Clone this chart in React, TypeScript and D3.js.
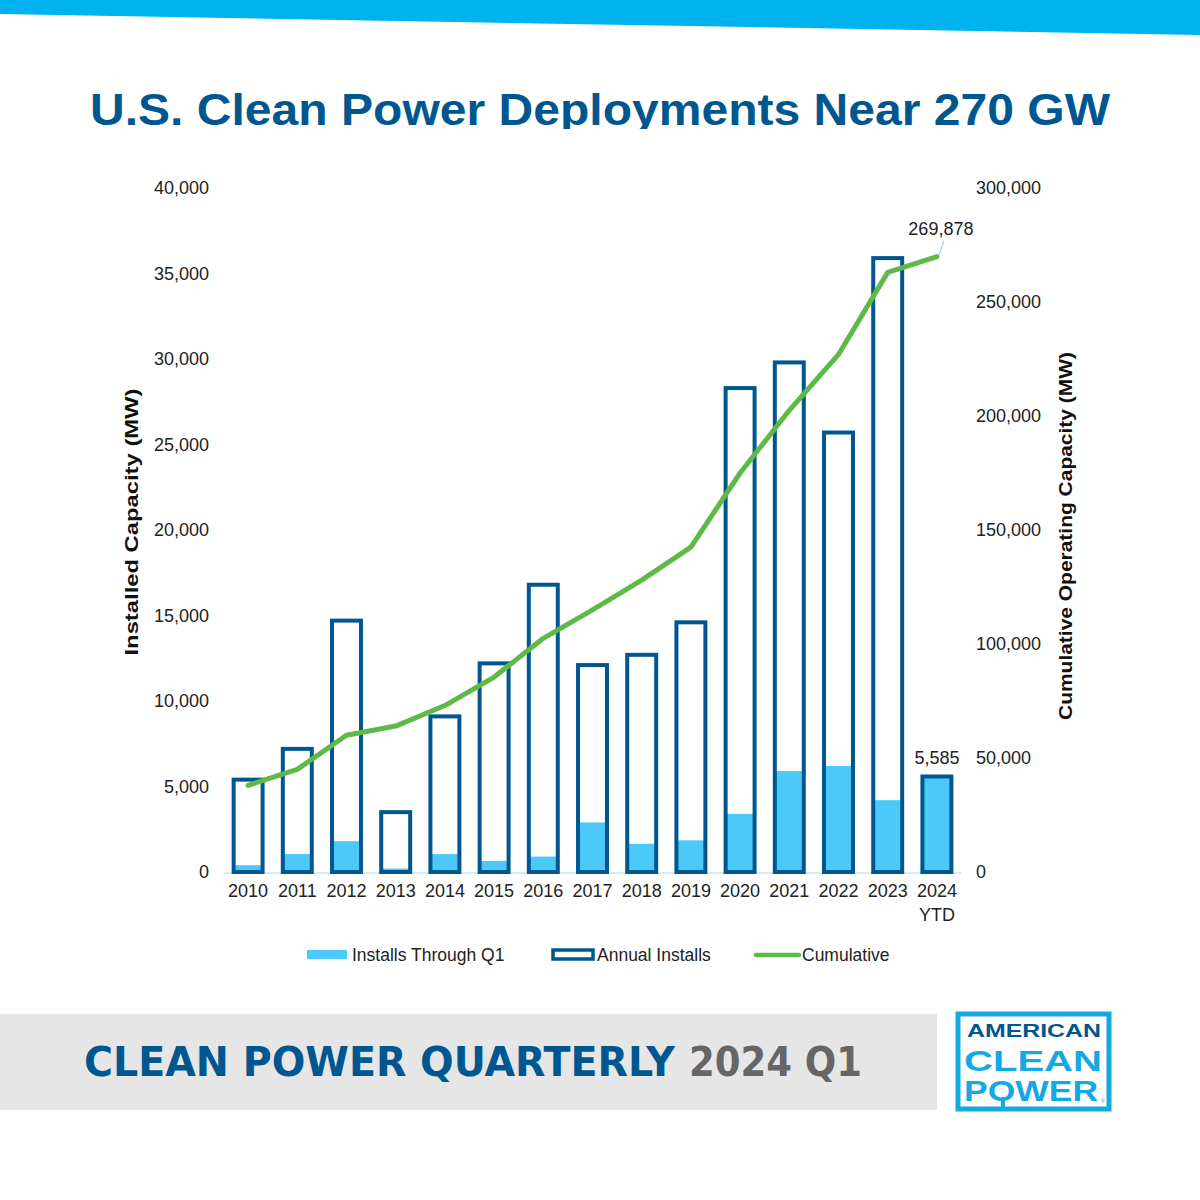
import React from "react";
import * as d3 from "d3";

// Data (MW)
const years = ["2010", "2011", "2012", "2013", "2014", "2015", "2016", "2017", "2018", "2019", "2020", "2021", "2022", "2023", "2024"];
const annualInstalls = [5400, 7200, 14700, 3500, 9100, 12200, 16800, 12100, 12700, 14600, 28300, 29800, 25700, 35900, 5585];
const q1Installs = [400, 1050, 1800, 200, 1050, 650, 900, 2900, 1650, 1850, 3400, 5900, 6200, 4200, 5585];
const cumulative = [38000, 45000, 60000, 64000, 73000, 85500, 102500, 115000, 128000, 142500, 175000, 202500, 227000, 263000, 269878];
const leftTicks = [0, 5000, 10000, 15000, 20000, 25000, 30000, 35000, 40000];
const rightTicks = [0, 50000, 100000, 150000, 200000, 250000, 300000];

const DARK_BLUE = "#00578F";
const LIGHT_BLUE = "#4BC9F8";
const GREEN = "#5DBA47";
const CYAN = "#00B3EE";
const LOGO_CYAN = "#14A9E2";
const FONT = "'Liberation Sans', Arial, Helvetica, sans-serif";
const NARROW = "'Liberation Sans Narrow', 'DejaVu Sans Condensed', 'Liberation Sans', sans-serif";

export default function App() {
  const width = 1200;
  const height = 1200;
  const plot = { left: 223.5, right: 961.5, top: 188, bottom: 872 };

  const x = d3
    .scaleBand<string>()
    .domain(years)
    .range([plot.left, plot.right])
    .paddingInner(0.33)
    .paddingOuter(0.165);

  const yLeft = d3.scaleLinear().domain([0, 40000]).range([plot.bottom, plot.top]);
  const yRight = d3.scaleLinear().domain([0, 300000]).range([plot.bottom, plot.top]);

  const fmt = d3.format(",");
  const bw = x.bandwidth();
  const cx = (y: string) => (x(y) ?? 0) + bw / 2;

  const line = d3
    .line<number>()
    .x((_, i) => cx(years[i]))
    .y((d) => yRight(d));

  const last = years.length - 1;

  return (
    <div>
      <style>{`body{margin:0}`}</style>
      <svg width={width} height={height} style={{ display: "block", background: "#fff" }}>
        {/* top banner */}
        <polygon points="0,0 1200,0 1200,35 0,14" fill={CYAN} />

        {/* title */}
        <defs>
          <clipPath id="titleClip">
            <rect x={0} y={60} width={1200} height={69} />
          </clipPath>
        </defs>
        <text
          x={600}
          y={125}
          textAnchor="middle"
          fontFamily={FONT}
          fontWeight="bold"
          fontSize={44}
          fill={DARK_BLUE}
          textLength={1020}
          lengthAdjust="spacingAndGlyphs"
          clipPath="url(#titleClip)"
        >
          U.S. Clean Power Deployments Near 270 GW
        </text>

        {/* baseline */}
        <line x1={plot.left} x2={plot.right} y1={plot.bottom + 1} y2={plot.bottom + 1} stroke="#BFE7F8" strokeWidth={1.5} />

        {/* Q1 fill */}
        {years.map((yr, i) => (
          <rect
            key={"q" + yr}
            x={(x(yr) ?? 0) + 2}
            y={yLeft(q1Installs[i])}
            width={bw - 4}
            height={plot.bottom - yLeft(q1Installs[i])}
            fill={LIGHT_BLUE}
          />
        ))}

        {/* Annual outline */}
        {years.map((yr, i) => (
          <rect
            key={"a" + yr}
            x={(x(yr) ?? 0) + 2}
            y={yLeft(annualInstalls[i])}
            width={bw - 4}
            height={plot.bottom - yLeft(annualInstalls[i])}
            fill="none"
            stroke={DARK_BLUE}
            strokeWidth={4}
          />
        ))}

        {/* cumulative line */}
        <path d={line(cumulative) ?? ""} fill="none" stroke={GREEN} strokeWidth={5} strokeLinecap="round" strokeLinejoin="round" />

        {/* data labels */}
        <line
          x1={cx(years[last]) + 2}
          y1={yRight(cumulative[last]) - 1}
          x2={cx(years[last]) + 7}
          y2={yRight(cumulative[last]) - 16}
          stroke="#8FD3F2"
          strokeWidth={1.2}
        />
        <text x={cx(years[last]) + 4} y={yRight(cumulative[last]) - 22} textAnchor="middle" fontFamily={FONT} fontSize={18} fill="#222">
          {fmt(cumulative[last])}
        </text>
        <text x={cx(years[last])} y={yLeft(annualInstalls[last]) - 12} textAnchor="middle" fontFamily={FONT} fontSize={18} fill="#222">
          {fmt(annualInstalls[last])}
        </text>

        {/* left ticks */}
        {leftTicks.map((t) => (
          <text key={"l" + t} x={209} y={yLeft(t)} dy="0.35em" textAnchor="end" fontFamily={FONT} fontSize={18} fill="#222">
            {fmt(t)}
          </text>
        ))}

        {/* right ticks */}
        {rightTicks.map((t) => (
          <text key={"r" + t} x={976} y={yRight(t)} dy="0.35em" textAnchor="start" fontFamily={FONT} fontSize={18} fill="#222">
            {fmt(t)}
          </text>
        ))}

        {/* x labels */}
        {years.map((yr, i) => (
          <text key={"x" + yr} x={cx(yr)} y={897} textAnchor="middle" fontFamily={FONT} fontSize={18} fill="#222">
            {yr}
            {i === last && (
              <tspan x={cx(yr)} dy={24}>
                YTD
              </tspan>
            )}
          </text>
        ))}

        {/* axis titles */}
        <text
          transform="translate(138,522) rotate(-90)"
          textAnchor="middle"
          fontFamily={FONT}
          fontWeight="bold"
          fontSize={18}
          fill="#111"
          textLength={267}
          lengthAdjust="spacingAndGlyphs"
        >
          Installed Capacity (MW)
        </text>
        <text
          transform="translate(1072,536) rotate(-90)"
          textAnchor="middle"
          fontFamily={FONT}
          fontWeight="bold"
          fontSize={18}
          fill="#111"
          textLength={368}
          lengthAdjust="spacingAndGlyphs"
        >
          Cumulative Operating Capacity (MW)
        </text>

        {/* legend */}
        <g fontFamily={FONT} fontSize={17.5} fill="#222">
          <rect x={307} y={950} width={40} height={9} fill={LIGHT_BLUE} />
          <text x={352} y={961}>Installs Through Q1</text>
          <rect x={553} y={950} width={40} height={9} fill="#fff" stroke={DARK_BLUE} strokeWidth={3.5} />
          <text x={597} y={961}>Annual Installs</text>
          <line x1={756} x2={799} y1={955} y2={955} stroke={GREEN} strokeWidth={4.5} strokeLinecap="round" />
          <text x={802} y={961}>Cumulative</text>
        </g>

        {/* footer band */}
        <rect x={0} y={1014} width={937} height={96} fill="#E6E6E6" />
        <text
          x={84}
          y={1076}
          fontFamily={NARROW}
          fontWeight="bold"
          fontSize={40}
          fill={DARK_BLUE}
          textLength={591}
          lengthAdjust="spacingAndGlyphs"
        >
          CLEAN POWER QUARTERLY
        </text>
        <text
          x={689}
          y={1076}
          fontFamily={NARROW}
          fontWeight="bold"
          fontSize={40}
          fill="#666"
          textLength={173}
          lengthAdjust="spacingAndGlyphs"
        >
          2024 Q1
        </text>

        {/* logo */}
        <rect x={958} y={1014} width={151} height={95} fill="#fff" stroke={LOGO_CYAN} strokeWidth={5} />
        <text x={1034} y={1037} textAnchor="middle" fontFamily={FONT} fontWeight="bold" fontSize={18} fill={DARK_BLUE} textLength={134} lengthAdjust="spacingAndGlyphs">
          AMERICAN
        </text>
        <text x={1033} y={1071} textAnchor="middle" fontFamily={FONT} fontWeight="bold" fontSize={30} fill={LOGO_CYAN} textLength={138} lengthAdjust="spacingAndGlyphs">
          CLEAN
        </text>
        <text x={1031} y={1101} textAnchor="middle" fontFamily={FONT} fontWeight="bold" fontSize={30} fill={LOGO_CYAN} textLength={134} lengthAdjust="spacingAndGlyphs">
          POWER
        </text>
        <line x1={1003} x2={1003} y1={1097} y2={1110} stroke={LOGO_CYAN} strokeWidth={4} />
        <text x={1101} y={1103} fontFamily={FONT} fontSize={5} fill={LOGO_CYAN}>®</text>
      </svg>
    </div>
  );
}
